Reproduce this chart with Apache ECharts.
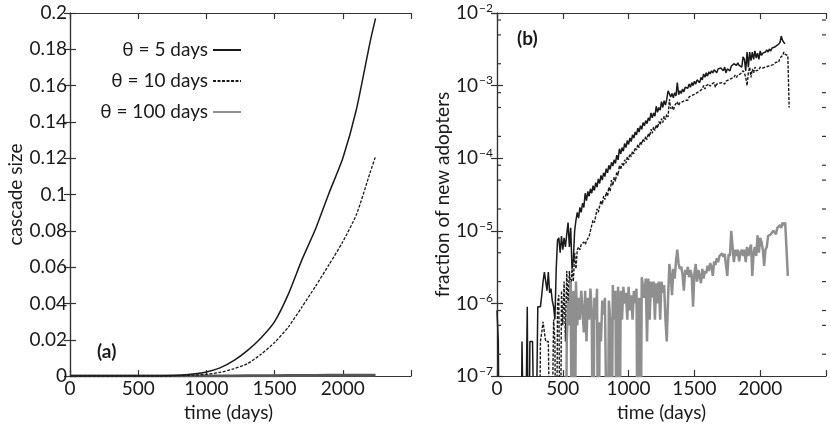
<!DOCTYPE html>
<html>
<head>
<meta charset="utf-8">
<script src="https://cdn.jsdelivr.net/npm/echarts@6/dist/echarts.min.js"></script>
<style>
  html, body { margin: 0; padding: 0; background: #ffffff; }
  #chart { width: 830px; height: 427px; }
</style>
</head>
<body>
<div id="chart"></div>
<script>
// ---------- DATA ----------
const seriesNames = ['θ = 5 days', 'θ = 10 days', 'θ = 100 days'];
const xTicks = [0, 500, 1000, 1500, 2000, 2500];

// Panel (a): cascade size (cumulative), sampled every 100 days, last sample at 2240
const daysA = [0, 100, 200, 300, 400, 500, 600, 700, 800, 900, 1000, 1100, 1200, 1300, 1400, 1500, 1600, 1700, 1800, 1900, 2000, 2100, 2200, 2240];
const cascade5   = [0, 0, 0, 0, 0, 0, 0, 0.0002, 0.0005, 0.0012, 0.0023, 0.0045, 0.0085, 0.014, 0.021, 0.030, 0.045, 0.064, 0.081, 0.101, 0.120, 0.147, 0.184, 0.197];
const cascade10  = [0, 0, 0, 0, 0, 0, 0, 0, 0.0002, 0.0005, 0.001, 0.002, 0.004, 0.0068, 0.012, 0.0185, 0.027, 0.038, 0.0495, 0.0615, 0.074, 0.089, 0.112, 0.121];
const cascade100 = [0, 0, 0, 0, 0, 0, 0, 0, 0, 0, 0.0001, 0.0001, 0.0001, 0.0002, 0.0002, 0.0002, 0.0003, 0.0003, 0.0003, 0.0004, 0.0004, 0.0005, 0.0005, 0.0005];

// Panel (b): fraction of new adopters, one sample every 10 days.
// Z marks a zero count (drawn down to below the axis floor).
const Z = 1e-9;
const stepB = 10;
const start5 = 0;
const adopt5 = [
  8e-7, 3e-7, Z, Z, Z, Z, Z, Z, Z, Z, Z, Z, Z, Z, Z, Z, Z, Z, Z,
  3e-7, 3e-7, Z, Z, 9e-7, Z, 3e-7, 3e-7, 3e-7, 3e-7, Z, Z,
  9e-7, 9e-7, 9e-7, 1.3e-6, 2e-6, 2.7e-6, 2.7e-6, 1.5e-6, 2.7e-6, 1.4e-6,
  1.6e-6, 1.1e-6, 9e-7, 6e-7, 3e-6, 7.5e-6, 8e-6, 5e-6, 8.5e-6, 5.5e-6,
  8e-6, 6e-6, 9e-6, 1.3e-5, 6e-6, 1.1e-5, 3e-6, 4e-6, 1e-5, 1.4e-5,
  1.8e-5, 1.5e-5, 2.1e-5, 1.8e-5, 2.4e-5, 2.1e-5, 3.3e-5, 2.6e-5, 3.5e-5, 3e-5,
  3.8e-5, 3.3e-5, 4.2e-5, 3.6e-5, 4.6e-5, 4e-5, 5.2e-5, 4.5e-5, 5.8e-5, 5e-5,
  6.3e-5, 5.6e-5, 7.2e-5, 6.3e-5, 8e-5, 7e-5, 8.8e-5, 7.8e-5, 9.5e-5, 8.5e-5,
  1.1e-4, 9.5e-5, 1.35e-4, 1.15e-4, 1.4e-4, 1.25e-4, 1.6e-4, 1.4e-4, 1.75e-4, 1.55e-4,
  1.9e-4, 1.7e-4, 2.1e-4, 1.9e-4, 2.3e-4, 2.1e-4, 2.6e-4, 2.3e-4, 2.8e-4, 2.5e-4,
  3.1e-4, 2.8e-4, 3.3e-4, 3e-4, 3.6e-4, 3.3e-4, 4.2e-4, 3.6e-4, 4.2e-4, 3.8e-4,
  5.2e-4, 4.3e-4, 5e-4, 4.6e-4, 6e-4, 5e-4, 6.2e-4, 5.4e-4, 6.5e-4, 8.5e-4,
  9e-4, 7e-4, 7.8e-4, 6.8e-4, 8e-4, 7.2e-4, 1.1e-3, 7.5e-4, 8.5e-4, 7.8e-4,
  9e-4, 8.2e-4, 9.5e-4, 1.0e-3, 9.2e-4, 1.05e-3, 9.5e-4, 1.1e-3, 1.0e-3, 1.15e-3,
  1.05e-3, 1.2e-3, 1.25e-3, 1.1e-3, 1.3e-3, 1.2e-3, 1.45e-3, 1.3e-3, 1.5e-3, 1.35e-3,
  1.55e-3, 1.45e-3, 1.6e-3, 1.5e-3, 1.65e-3, 1.55e-3, 1.5e-3, 1.7e-3, 1.6e-3, 1.75e-3,
  1.65e-3, 1.6e-3, 1.8e-3, 1.5e-3, 1.7e-3, 1.75e-3, 1.6e-3, 1.85e-3, 1.75e-3, 2e-3,
  2.1e-3, 1.9e-3, 2.05e-3, 1.9e-3, 2.0e-3, 1.8e-3, 2.5e-3, 2.3e-3, 1.6e-3, 2.9e-3,
  1.8e-3, 2.9e-3, 2.2e-3, 2.9e-3, 2.3e-3, 3e-3, 2.4e-3, 2.8e-3, 2.3e-3, 3e-3,
  2.6e-3, 2.8e-3, 2.7e-3, 2.9e-3, 3.1e-3, 2.9e-3, 3.2e-3, 3e-3, 3.3e-3, 3.1e-3,
  3.4e-3, 3.3e-3, 3.6e-3, 3.4e-3, 3.9e-3, 4.8e-3, 4.2e-3, 3.9e-3, 3.8e-3
];
const start10 = 320;
const adopt10 = [
  Z, 3e-7, 4e-7, 5.6e-7, 4e-7, 3e-7, 3e-7, 3e-7, 3e-7, Z,
  Z, 6e-7, 3e-7, Z, 1e-6, 1.3e-6, Z, 1.5e-6, 5e-7, 2e-6,
  3e-7, 2.8e-6, 1e-6, 2.8e-6, 1.5e-6, 3e-6, 2e-6, 5e-6, 3e-6, 5.5e-6,
  6e-6, 5.5e-6, 6.5e-6, 6.2e-6, 7e-6, 6.5e-6, 7.2e-6, 7e-6, 8.5e-6, 1e-5,
  1.2e-5, 1.4e-5, 1.3e-5, 1.6e-5, 2e-5, 1.8e-5, 2.2e-5, 2.6e-5, 2.3e-5, 3e-5,
  2.7e-5, 3.4e-5, 3e-5, 4e-5, 3.5e-5, 5e-5, 4.2e-5, 5.5e-5, 4.8e-5, 6.5e-5,
  5.8e-5, 8e-5, 7e-5, 8.5e-5, 7.8e-5, 9.5e-5, 8.5e-5, 1.05e-4, 9.5e-5, 1.15e-4,
  1.05e-4, 1.25e-4, 1.15e-4, 1.4e-4, 1.3e-4, 1.55e-4, 1.4e-4, 1.7e-4, 1.55e-4, 1.85e-4,
  1.7e-4, 2e-4, 1.8e-4, 2.2e-4, 2e-4, 2.5e-4, 2.2e-4, 2.7e-4, 2.4e-4, 2.9e-4,
  2.6e-4, 3.2e-4, 2.9e-4, 3.5e-4, 3.1e-4, 3.8e-4, 3.4e-4, 4e-4, 3.7e-4, 6.5e-4,
  4.8e-4, 5.2e-4, 4.6e-4, 5.3e-4, 5e-4, 6e-4, 5.3e-4, 5.8e-4, 5.5e-4, 6e-4,
  5.7e-4, 6.3e-4, 6.7e-4, 6.3e-4, 7e-4, 6.6e-4, 7.3e-4, 7e-4, 7.6e-4, 7.2e-4,
  8e-4, 7.6e-4, 8.4e-4, 8e-4, 9e-4, 1.0e-3, 9e-4, 1.0e-3, 9.5e-4, 1.05e-3,
  9.8e-4, 1.05e-3, 1.0e-3, 1.1e-3, 9.5e-4, 1.05e-3, 1.0e-3, 1.08e-3, 1.02e-3, 1.1e-3,
  1.15e-3, 1.05e-3, 1.15e-3, 1.1e-3, 1.2e-3, 1.15e-3, 1.25e-3, 1.2e-3, 1.3e-3, 1.4e-3,
  1.3e-3, 1.4e-3, 1.35e-3, 1.45e-3, 1.4e-3, 1.6e-3, 1.5e-3, 1.3e-3, 1.0e-3, 1.5e-3,
  1.8e-3, 1.3e-3, 1.7e-3, 1.5e-3, 1.8e-3, 1.6e-3, 1.7e-3, 1.65e-3, 1.8e-3, 1.7e-3,
  1.75e-3, 1.85e-3, 1.8e-3, 1.9e-3, 1.85e-3, 1.95e-3, 1.9e-3, 2e-3, 1.95e-3, 2.05e-3,
  2.1e-3, 2.2e-3, 2.1e-3, 2.4e-3, 2.3e-3, 2.6e-3, 2.9e-3, 2.7e-3, 2.8e-3, 2.6e-3,
  5e-4
];
const start100 = 520;
const adopt100 = [
  Z, 3e-7, 1e-6, 5e-7, 2e-6, Z, 1.5e-6, Z, 2e-6, 5e-7,
  1.2e-6, 6e-7, 1.5e-6, 8e-7, 4e-7, 1.5e-6, 3e-7, 1.2e-6, 6e-7, 1.6e-6,
  8e-7, Z, 1.2e-6, 6e-7, 1.6e-6, Z, 5.5e-7, 3e-7, 1.1e-6, 7e-7,
  1.2e-6, 1.2e-6, Z, 1.1e-6, 6e-7, Z, 1.8e-6, 6e-7, 1.5e-6, Z,
  1.7e-6, Z, 1.5e-6, 6e-7, 1.7e-6, 1.0e-6, 1.4e-6, 6e-7, 1.7e-6, 8e-7,
  1.3e-6, 6e-7, 1.5e-6, 1.0e-6, 1.6e-6, Z, 1.2e-6, Z, 2.3e-6, 2.3e-6,
  1.2e-6, 2.2e-6, 3e-7, 2.2e-6, 6e-7, 2e-6, 1.2e-6, 2e-6, 6e-7, 1.9e-6,
  1.0e-6, 2e-6, 6e-7, 2e-6, 1.4e-6, 1.8e-6, 6e-7, 3e-7, 1.2e-6, 3.5e-6,
  2.5e-6, 1.3e-6, 3e-6, 2.2e-6, 3.8e-6, 5.5e-6, 3.5e-6, 3e-6, 3.2e-6, 2.5e-6,
  1.5e-6, 2.9e-6, 2.5e-6, 3.2e-6, 2.3e-6, 2.9e-6, 2.4e-6, 9e-7, 2.6e-6, 3.5e-6,
  2e-6, 2.9e-6, 2.4e-6, 1.9e-6, 3e-6, 2.2e-6, 2.8e-6, 2.6e-6, 3.3e-6, 2.8e-6,
  3.6e-6, 3.2e-6, 2.4e-6, 3.8e-6, 3.4e-6, 4.2e-6, 3.7e-6, 4.5e-6, 4.3e-6, 4.9e-6,
  4.4e-6, 4.8e-6, 4.6e-6, 2.4e-6, 4.8e-6, 4.5e-6, 1e-5, 6e-6, 3.7e-6, 5.5e-6,
  4.5e-6, 5.5e-6, 3.8e-6, 5e-6, 5.5e-6, 4.5e-6, 5.5e-6, 3.7e-6, 6e-6, 4.5e-6,
  5.5e-6, 6.5e-6, 2.4e-6, 5e-6, 6e-6, 4.5e-6, 8.7e-6, 5e-6, 8e-6, 7e-6,
  5.5e-6, 3.3e-6, 5.5e-6, 6e-6, 8.5e-6, 8.7e-6, 9e-6, 8.7e-6, 1.0e-5, 9.5e-6,
  9e-6, 1.1e-5, 1.05e-5, 1.2e-5, 1.1e-5, 1.3e-5, 1.2e-5, 1.3e-5, 1.25e-5, 2.4e-6
];
const logTicks = [1e-7, 1e-6, 1e-5, 1e-4, 1e-3, 1e-2];
const logMinorTicks = [
  2e-7, 5e-7, 8e-7, 2e-6, 5e-6, 8e-6, 2e-5, 5e-5, 8e-5,
  2e-4, 5e-4, 8e-4, 2e-3, 5e-3, 8e-3
];

// ---------- BUILD ----------
function pairs(xs, ys) { return xs.map((x, i) => [x, ys[i]]); }
function stepped(start, ys) { return ys.map((y, i) => [start + i * stepB, y]); }

const FONT = 'Lato';
const TXT = '#1a1a1a';
const AX = '#333333';
const BLACK = '#1a1a1a';
const GRAY = '#8f8f8f';
const GRAY_A = '#555555';

const chart = echarts.init(document.getElementById('chart'), null, { renderer: 'canvas' });

function xAxisBase(gridIndex, bottom) {
  return {
    type: 'value', gridIndex: gridIndex, min: xTicks[0], max: xTicks[xTicks.length - 1], interval: 500,
    position: bottom ? 'bottom' : 'top',
    axisLine: { show: true, onZero: false, lineStyle: { color: AX, width: 1.2 } },
    axisTick: { show: true, inside: true, length: 6, lineStyle: { color: AX, width: 1.2 } },
    axisLabel: {
      show: bottom, margin: 3, color: TXT, fontFamily: FONT, fontSize: 19,
      formatter: v => (v === xTicks[xTicks.length - 1] ? '' : String(v))
    },
    splitLine: { show: false },
    name: bottom ? 'time (days)' : '',
    nameLocation: 'middle', nameGap: 21,
    nameTextStyle: { color: TXT, fontFamily: FONT, fontSize: 19 }
  };
}

function minorTickSeries() {
  return {
    type: 'custom', xAxisIndex: 2, yAxisIndex: 2, silent: true, z: 6,
    data: logMinorTicks.map(v => [xTicks[0], v]),
    renderItem: function (params, api) {
      const v = api.value(1);
      const pL = api.coord([xTicks[0], v]);
      const pR = api.coord([xTicks[xTicks.length - 1], v]);
      const st = { stroke: AX, lineWidth: 1.2 };
      return {
        type: 'group',
        children: [
          { type: 'line', shape: { x1: pL[0], y1: pL[1], x2: pL[0] + 4, y2: pL[1] }, style: st },
          { type: 'line', shape: { x1: pR[0], y1: pR[1], x2: pR[0] - 4, y2: pR[1] }, style: st }
        ]
      };
    }
  };
}

const option = {
  backgroundColor: '#ffffff',
  animation: false,
  textStyle: { fontFamily: FONT },
  grid: [
    { left: 70, top: 13, width: 341, height: 371 },
    { left: 497, top: 13, width: 329, height: 371 }
  ],
  legend: {
    data: seriesNames,
    orient: 'vertical',
    align: 'right',
    right: 588,
    top: 40,
    padding: 0,
    itemGap: 11,
    itemWidth: 28,
    itemHeight: 20,
    itemStyle: { opacity: 0 },
    textStyle: { color: TXT, fontFamily: FONT, fontSize: 19, lineHeight: 20 },
    selectedMode: false
  },
  xAxis: [
    Object.assign(xAxisBase(0, true), { nameTextStyle: { color: TXT, fontFamily: FONT, fontSize: 19, padding: [0, 24, 0, 0] } }),
    xAxisBase(0, false),
    xAxisBase(1, true),
    xAxisBase(1, false)
  ],
  yAxis: [
    {
      type: 'value', gridIndex: 0, min: 0, max: 0.2, interval: 0.02, position: 'left',
      axisLine: { show: true, lineStyle: { color: AX, width: 1.2 } },
      axisTick: { show: true, inside: true, length: 6, lineStyle: { color: AX, width: 1.2 } },
      axisLabel: { margin: 3, color: TXT, fontFamily: FONT, fontSize: 19 },
      splitLine: { show: false },
      name: 'cascade size', nameLocation: 'middle', nameGap: 44,
      nameTextStyle: { color: TXT, fontFamily: FONT, fontSize: 19 }
    },
    {
      type: 'value', gridIndex: 0, min: 0, max: 0.2, interval: 0.02, position: 'right',
      axisLine: { show: true, lineStyle: { color: AX, width: 1.2 } },
      axisTick: { show: true, inside: true, length: 6, lineStyle: { color: AX, width: 1.2 } },
      axisLabel: { show: false }, splitLine: { show: false }
    },
    {
      type: 'log', logBase: 10, gridIndex: 1, min: logTicks[0], max: logTicks[logTicks.length - 1], position: 'left',
      axisLine: { show: true, lineStyle: { color: AX, width: 1.2 } },
      axisTick: { show: true, inside: true, length: 6, lineStyle: { color: AX, width: 1.2 } },
      axisLabel: {
        margin: 4, color: TXT, fontFamily: FONT,
        formatter: v => '{b|10}{s|\u2212' + Math.round(-Math.log10(v)) + '}',
        rich: {
          b: { fontFamily: FONT, fontSize: 19, color: TXT },
          s: { fontFamily: FONT, fontSize: 12, color: TXT, padding: [0, 0, 10, 1] }
        }
      },
      splitLine: { show: false },
      name: 'fraction of new adopters', nameLocation: 'middle', nameGap: 44,
      nameTextStyle: { color: TXT, fontFamily: FONT, fontSize: 19 }
    },
    {
      type: 'log', logBase: 10, gridIndex: 1, min: logTicks[0], max: logTicks[logTicks.length - 1], position: 'right',
      axisLine: { show: true, lineStyle: { color: AX, width: 1.2 } },
      axisTick: { show: true, inside: true, length: 6, lineStyle: { color: AX, width: 1.2 } },
      axisLabel: { show: false }, splitLine: { show: false }
    }
  ],
  graphic: [
    { type: 'text', left: 97, top: 342, style: { text: '(a)', fontFamily: FONT, fontWeight: 'bold', fontSize: 19, fill: TXT } },
    { type: 'text', left: 517, top: 29, style: { text: '(b)', fontFamily: FONT, fontWeight: 'bold', fontSize: 19, fill: TXT } }
  ],
  series: [
    // panel (b) (listed first so the legend takes its styles)
    { name: seriesNames[0], type: 'line', xAxisIndex: 2, yAxisIndex: 2, data: stepped(start5, adopt5), showSymbol: false, symbol: 'none', z: 4,
      lineStyle: { color: BLACK, width: 1.5 }, itemStyle: { color: BLACK } },
    { name: seriesNames[1], type: 'line', xAxisIndex: 2, yAxisIndex: 2, data: stepped(start10, adopt10), showSymbol: false, symbol: 'none', z: 3,
      lineStyle: { color: BLACK, width: 1.4, type: [3, 1.5] }, itemStyle: { color: BLACK } },
    { name: seriesNames[2], type: 'line', xAxisIndex: 2, yAxisIndex: 2, data: stepped(start100, adopt100), showSymbol: false, symbol: 'none', z: 5,
      lineStyle: { color: GRAY, width: 2.5 }, itemStyle: { color: GRAY } },
    minorTickSeries(),
    // panel (a)
    { name: seriesNames[2], type: 'line', xAxisIndex: 0, yAxisIndex: 0, data: pairs(daysA, cascade100), showSymbol: false, symbol: 'none', z: 2,
      lineStyle: { color: GRAY_A, width: 3 }, itemStyle: { color: GRAY_A } },
    { name: seriesNames[1], type: 'line', xAxisIndex: 0, yAxisIndex: 0, data: pairs(daysA, cascade10), showSymbol: false, symbol: 'none', smooth: 0.2, z: 3,
      lineStyle: { color: BLACK, width: 1.3, type: [3, 1.5] }, itemStyle: { color: BLACK } },
    { name: seriesNames[0], type: 'line', xAxisIndex: 0, yAxisIndex: 0, data: pairs(daysA, cascade5), showSymbol: false, symbol: 'none', smooth: 0.2, z: 4,
      lineStyle: { color: BLACK, width: 1.5 }, itemStyle: { color: BLACK } }
  ]
};
chart.setOption(option);
</script>
</body>
</html>
